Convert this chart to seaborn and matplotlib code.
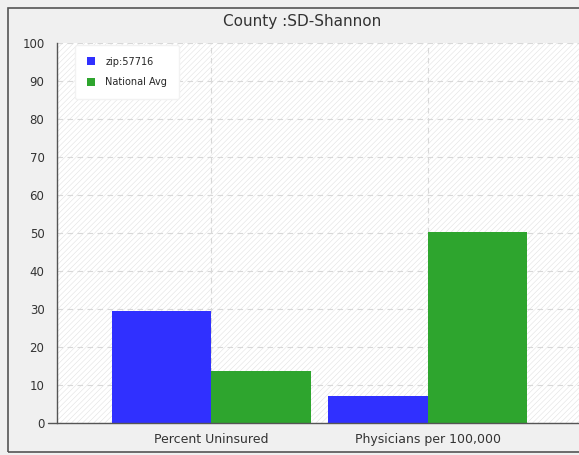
import matplotlib
matplotlib.use("Agg")
import matplotlib.pyplot as plt
from matplotlib.patches import Rectangle
import seaborn as sns
import pandas as pd

# data
categories = ['Percent Uninsured', 'Physicians per 100,000']
series = ['zip:57716', 'National Avg']
zip_values = [29.5, 7.2]
national_values = [13.7, 50.2]
y_ticks = [0, 10, 20, 30, 40, 50, 60, 70, 80, 90, 100]

df = pd.DataFrame({
    'category': categories * 2,
    'series': [series[0]] * 2 + [series[1]] * 2,
    'value': zip_values + national_values,
})

sns.set_style("white")
plt.rcParams['font.family'] = ['DejaVu Sans']

fig = plt.figure(figsize=(5.79, 4.55), dpi=100)
fig.patch.set_facecolor('#f0f0f0')
ax = fig.add_axes([57/579, 32/455, 1 - 57/579, (423 - 43)/455])

# hatched plot background
ax.set_facecolor('white')
plt.rcParams['hatch.linewidth'] = 0.4
ax.add_patch(Rectangle((0, 0), 1, 1, transform=ax.transAxes, facecolor='white',
                       edgecolor='#e2e2e2', hatch='//////', linewidth=0, zorder=0))

palette = {series[0]: '#3030ff', series[1]: '#2ea52e'}
sns.barplot(data=df, x='category', y='value', hue='series', palette=palette,
            width=0.92, saturation=1, linewidth=0, ax=ax, zorder=3, legend=True)

ax.set_xlim(-0.713, 1.70)
ax.set_ylim(0, 100)
ax.set_yticks(y_ticks)
ax.set_xlabel('')
ax.set_ylabel('')

# dashed grid
ax.grid(True, linestyle=(0, (5, 4)), color='#d8d8d8', linewidth=0.8, zorder=1)
ax.set_axisbelow(True)

for s in ['top', 'right', 'bottom']:
    ax.spines[s].set_visible(False)
ax.spines['left'].set_color('#555555')
ax.spines['left'].set_linewidth(1.0)
ax.axhline(0, xmin=-0.018, xmax=1, color='#555555', linewidth=1.0, clip_on=False, zorder=5)

ax.tick_params(axis='y', length=5, width=1, color='#555555', labelsize=8.5, labelcolor='#333333', pad=4)
ax.tick_params(axis='x', length=5, width=1, color='#555555', labelsize=9, labelcolor='#333333', pad=2)

leg = ax.legend(loc='upper left', bbox_to_anchor=(0.035, 0.995), fontsize=7, frameon=True,
                fancybox=True, framealpha=1, edgecolor='#f2f2f2', handlelength=0.8,
                handleheight=0.8, borderpad=1.2, labelspacing=1.1, handletextpad=1.1,
                borderaxespad=0)
leg.get_frame().set_facecolor('white')

fig.text(0.522, 0.952, 'County :SD-Shannon', ha='center', va='center', fontsize=11, color='#333333')

# outer border
fig.patches.append(Rectangle((8/579, 3/455), 1.0, 444/455, transform=fig.transFigure,
                             fill=False, edgecolor='#555555', linewidth=1.2))

fig.savefig('out.png', dpi=100, facecolor=fig.get_facecolor())
